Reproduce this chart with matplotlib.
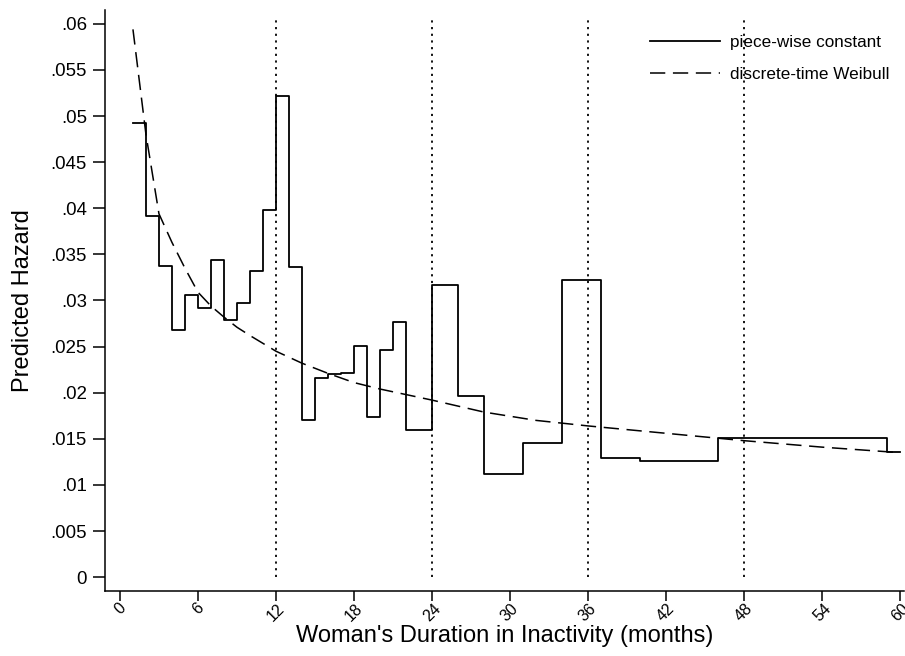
import matplotlib
matplotlib.use("Agg")
import matplotlib.pyplot as plt

plt.rcParams['font.family'] = ['Liberation Sans', 'DejaVu Sans']

# Piece-wise constant hazard, value for month t (drawn from t to t+1)
months = list(range(1, 61))
pw_hazard = [
    0.0493, 0.0392, 0.0337, 0.0268, 0.0306, 0.0292, 0.0344, 0.0279, 0.0297, 0.0332,
    0.0398, 0.0522, 0.0336, 0.0170, 0.0216, 0.0220, 0.0221, 0.0251, 0.0174, 0.0246,
    0.0277, 0.0160, 0.0160, 0.0317, 0.0317, 0.0196, 0.0196, 0.0112, 0.0112, 0.0112,
    0.0146, 0.0146, 0.0146, 0.0322, 0.0322, 0.0322, 0.0129, 0.0129, 0.0129, 0.0126,
    0.0126, 0.0126, 0.0126, 0.0126, 0.0126, 0.0151, 0.0151, 0.0151, 0.0151, 0.0151,
    0.0151, 0.0151, 0.0151, 0.0151, 0.0151, 0.0151, 0.0151, 0.0151, 0.0136, 0.0136,
]

# Discrete-time Weibull hazard
wb_months = [1, 2, 3, 4, 5, 6, 7, 8, 9, 10, 12, 14, 16, 18, 20, 24, 28, 32, 36, 42, 48, 54, 60]
wb_hazard = [0.0594, 0.0480, 0.0394, 0.0363, 0.0335, 0.0309, 0.0294, 0.0282, 0.0271, 0.0262,
             0.0245, 0.0232, 0.0221, 0.0211, 0.0204, 0.0192, 0.0179, 0.0170, 0.0164,
             0.0156, 0.0148, 0.0141, 0.0135]

vlines_x = [12, 24, 36, 48]
xticks = list(range(0, 61, 6))
yticks = [0, 0.005, 0.01, 0.015, 0.02, 0.025, 0.03, 0.035, 0.04, 0.045, 0.05, 0.055, 0.06]
ytick_labels = ["0", ".005", ".01", ".015", ".02", ".025", ".03", ".035", ".04", ".045", ".05", ".055", ".06"]

fig = plt.figure(figsize=(9.05, 6.56), dpi=100)
ax = fig.add_axes([105 / 905, 1 - 591 / 656, 799 / 905, 581 / 656])

ax.step(months, pw_hazard, where='post', color='black', lw=1.3, label='piece-wise constant')
ax.plot(wb_months, wb_hazard, color='black', lw=1.1, dashes=(10, 5), label='discrete-time Weibull')
ax.vlines(vlines_x, 0, 0.0606, colors='black', lw=1.3, linestyles=(0, (1.2, 2.5)))

ax.set_xlim(-1.15, 60.3)
ax.set_ylim(-0.0015, 0.0615)
ax.set_xticks(xticks)
ax.set_xticklabels([str(v) for v in xticks], rotation=45, fontsize=11.5)
ax.set_yticks(yticks)
ax.set_yticklabels(ytick_labels, fontsize=13.4)
ax.tick_params(axis='y', direction='out', length=9, width=1.1, color='black', pad=4)
ax.tick_params(axis='x', direction='out', length=7, width=1.1, color='black', pad=0)

for s in ['top', 'right']:
    ax.spines[s].set_visible(False)
for s in ['left', 'bottom']:
    ax.spines[s].set_linewidth(1.1)

ax.set_xlabel("Woman's Duration in Inactivity (months)", fontsize=17, labelpad=1)
ax.set_ylabel("Predicted Hazard", fontsize=17, labelpad=12)

leg = ax.legend(loc='upper left', bbox_to_anchor=(645 / 905, 1 - 30 / 656),
                bbox_transform=fig.transFigure, frameon=False, fontsize=12.3,
                handlelength=4.1, handletextpad=0.55, labelspacing=1.0,
                borderaxespad=0, borderpad=0.3)

fig.savefig("out.png", dpi=100)
